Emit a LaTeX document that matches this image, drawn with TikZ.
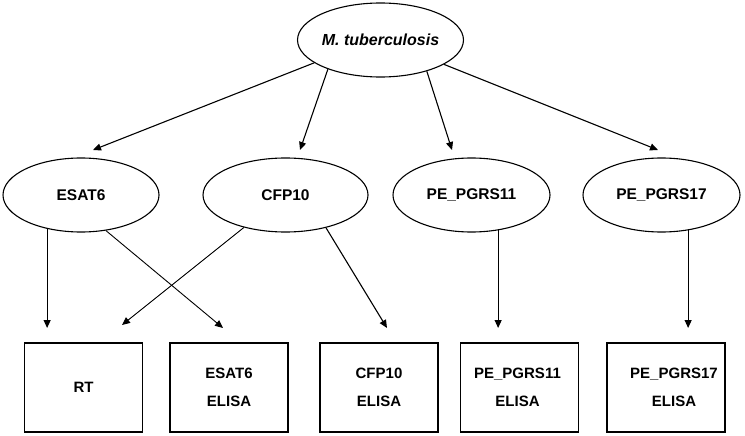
\documentclass[tikz,border=0pt]{standalone}
\usepackage{fontspec}
\setmainfont{Liberation Sans}
\usetikzlibrary{shapes.geometric,arrows.meta}
\begin{document}
\begin{tikzpicture}[x=1pt,y=-1pt,
  ell/.style={draw,ellipse,line width=1.1pt,inner sep=0pt,minimum height=74pt,
    font=\fontsize{15.5}{18}\selectfont\bfseries},
  box/.style={draw,rectangle,line width=1.3pt,inner sep=0pt,minimum width=118pt,minimum height=89pt,
    align=center,font=\fontsize{15}{28}\selectfont\bfseries},
  boxtext/.style={align=center,inner sep=0pt,font=\fontsize{15}{28}\selectfont\bfseries},
  arr/.style={line width=1.1pt,-{Triangle[length=8pt,width=7pt]}},
  arrthin/.style={line width=0.9pt,-{Triangle[length=8pt,width=7pt]}}]
\useasboundingbox (0,0) rectangle (745,436);
% ellipses
\node[ell,minimum width=165pt,font=\fontsize{16}{19}\selectfont\bfseries\itshape] (top) at (380.5,40) {M. tuberculosis};
\node[ell,minimum width=156pt] (e1) at (81,195) {ESAT6};
\node[ell,minimum width=165pt] (e2) at (285.5,195) {CFP10};
\node[ell,minimum width=157pt] (e3) at (471.5,195) {PE\_PGRS11};
\node[ell,minimum width=157pt] (e4) at (661.5,195) {PE\_PGRS17};
% boxes
\node[box] (b1) at (83.5,387.5) {RT};
\node[box] (b2) at (229,387.5) {ESAT6\\ELISA};
\node[box] (b3) at (379,387.5) {CFP10\\ELISA};
\node[box] (b4) at (519.5,387.5) {};
\node[boxtext] (b4t) at ([xshift=-2pt]b4.center) {PE\_PGRS11\\ELISA};
\node[box] (b5) at (666,387.5) {};
\node[boxtext] (b5t) at ([xshift=8pt]b5.center) {PE\_PGRS17\\ELISA};
% arrow end points
\coordinate (t1) at (93,150);
\coordinate (t2) at (300,150);
\coordinate (t3) at (452,150);
\coordinate (t4) at (658,150);
\coordinate (a1) at (48,328);
\coordinate (a2) at (223,328);
\coordinate (a3) at (122,325);
\coordinate (a4) at (387,328);
\coordinate (a5) at (498,328);
\coordinate (a6) at (688,328);
% top arrows
\draw[arr] (top.199) -- (t1);
\draw[arr] (top.209) -- (t2);
\draw[arr] (top.326) -- (t3);
\draw[arr] (top.339) -- (t4);
% lower arrows
\draw[arr] (e1.225) -- (e1.225 |- a1);
\draw[arrthin] (e1.305) -- (a2);
\draw[arrthin] (e2.218) -- (a3);
\draw[arr] (e2.321) -- (a4);
\draw[arr] (e3.307) -- (e3.307 |- a5);
\draw[arr] (e4.307) -- (e4.307 |- a6);
\end{tikzpicture}
\end{document}
